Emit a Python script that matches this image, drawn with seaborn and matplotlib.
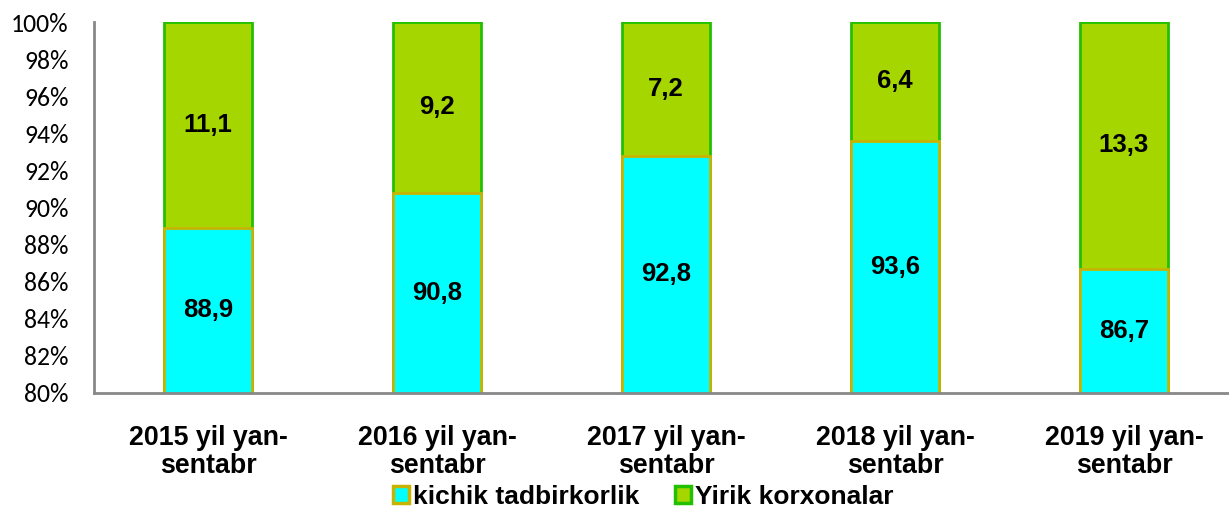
import matplotlib
matplotlib.use("Agg")
import matplotlib.pyplot as plt
import seaborn as sns
import pandas as pd
from matplotlib.patches import Patch

categories = ["2015 yil yan-\nsentabr", "2016 yil yan-\nsentabr", "2017 yil yan-\nsentabr",
              "2018 yil yan-\nsentabr", "2019 yil yan-\nsentabr"]
kichik = [88.9, 90.8, 92.8, 93.6, 86.7]
yirik = [11.1, 9.2, 7.2, 6.4, 13.3]
series_names = ["kichik tadbirkorlik", "Yirik korxonalar"]
y_ticks = [80, 82, 84, 86, 88, 90, 92, 94, 96, 98, 100]

sns.set_theme(style="white")
plt.rcParams['font.family'] = ['Liberation Sans', 'DejaVu Sans']
plt.rcParams['text.color'] = 'black'

df = pd.DataFrame({"cat": categories, "kichik": kichik, "yirik": yirik})
df["total"] = df["kichik"] + df["yirik"]

fig = plt.figure(figsize=(12.29, 5.12), dpi=100)
ax = fig.add_axes([93.5/1229, 1-393/512, (1229-93.5)/1229, (393-22)/512])

cyan = "#00FFFF"
cyan_edge = "#C8B400"
green = "#A6D600"
green_edge = "#22C000"
bw = 88/229

sns.barplot(data=df, x="cat", y="total", color=green, saturation=1, width=bw,
            edgecolor=green_edge, linewidth=2, ax=ax)
sns.barplot(data=df, x="cat", y="kichik", color=cyan, saturation=1, width=bw,
            edgecolor=cyan_edge, linewidth=2, ax=ax)

ax.set_ylim(80, 100)
ax.set_xlim(-0.5, 4.5 - 9.5/229)
ax.set_yticks(y_ticks)
ax.set_yticklabels([f"{t}%" for t in y_ticks], fontsize=18.5, color='black',
                   family=['Carlito', 'Open Sans', 'DejaVu Sans'])
ax.tick_params(axis='y', length=0, pad=18)
ax.tick_params(axis='x', length=0, pad=23)
for lbl in ax.get_xticklabels():
    lbl.set_fontsize(19.3)
    lbl.set_fontweight('bold')
    lbl.set_color('black')
    lbl.set_linespacing(1.1)
ax.set_xlabel("")
ax.set_ylabel("")

for s in ["top", "right"]:
    ax.spines[s].set_visible(False)
for s in ["left", "bottom"]:
    ax.spines[s].set_color("#888888")
    ax.spines[s].set_linewidth(2)

def fmt(v):
    return f"{v:.1f}".replace(".", ",")

for i, (k, y) in enumerate(zip(kichik, yirik)):
    ax.text(i, (80 + k) / 2, fmt(k), ha='center', va='center', fontsize=18.5, fontweight='bold', color='black')
    ax.text(i, k + y / 2, fmt(y), ha='center', va='center', fontsize=18.5, fontweight='bold', color='black')

handles = [Patch(facecolor=cyan, edgecolor=cyan_edge, linewidth=2.5),
           Patch(facecolor=green, edgecolor=green_edge, linewidth=2.5)]
fig.legend(handles, series_names, loc='center', bbox_to_anchor=(643.5/1229, 1-497/512), ncol=2,
           frameon=False, prop={'weight': 'bold', 'size': 19}, handlelength=0.6, handleheight=0.6,
           handletextpad=0.15, columnspacing=1.36, borderpad=0, labelcolor='black')

fig.savefig("out.png", dpi=100)
